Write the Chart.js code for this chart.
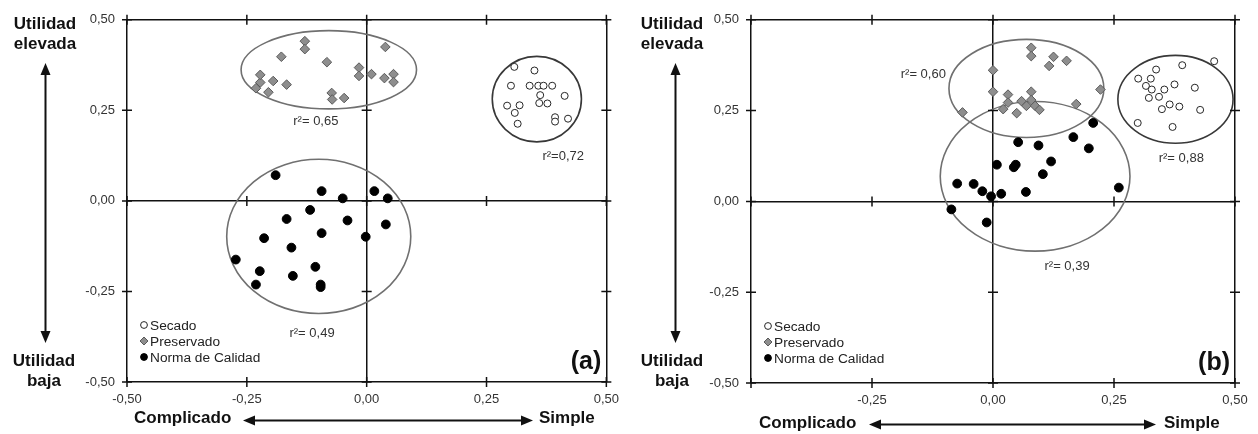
<!DOCTYPE html>
<html>
<head>
<meta charset="utf-8">
<script src="https://cdn.jsdelivr.net/npm/chart.js@4.4.1/dist/chart.umd.min.js"></script>
<style>
  body { margin: 0; background: #fff; width: 1258px; height: 434px; position: relative; overflow: hidden;
         font-family: "Liberation Sans", Arial, sans-serif; }
  .panel { position: absolute; top: 0; width: 629px; height: 434px; }
  .lbl { position: absolute; font-weight: bold; font-size: 17px; line-height: 20px; color: #111; white-space: nowrap; }
  .c { width: 90px; text-align: center; }
  svg { position: absolute; left: 0; top: 0; pointer-events: none; }
</style>
</head>
<body>
<div class="panel" style="left:0"><canvas id="chart-a"></canvas></div>
<div class="panel" style="left:629px"><canvas id="chart-b"></canvas></div>

<!-- texto de los ejes -->
<div class="lbl c" style="left:0;top:14px">Utilidad<br>elevada</div>
<div class="lbl c" style="left:-1px;top:351px">Utilidad<br>baja</div>
<div class="lbl" style="left:134px;top:408px">Complicado</div>
<div class="lbl" style="left:539px;top:408px">Simple</div>

<div class="lbl c" style="left:627px;top:14px">Utilidad<br>elevada</div>
<div class="lbl c" style="left:627px;top:351px">Utilidad<br>baja</div>
<div class="lbl" style="left:759px;top:413px">Complicado</div>
<div class="lbl" style="left:1164px;top:413px">Simple</div>

<svg width="1258" height="434">
  <g stroke="#111" stroke-width="2" fill="none">
    <line x1="45.5" y1="72" x2="45.5" y2="334"/>
    <line x1="252" y1="420.5" x2="524" y2="420.5"/>
    <line x1="675.5" y1="72" x2="675.5" y2="334"/>
    <line x1="878" y1="424.5" x2="1147" y2="424.5"/>
  </g>
  <g fill="#111">
    <polygon points="45.5,63 40.5,75 50.5,75"/>
    <polygon points="45.5,343 40.5,331 50.5,331"/>
    <polygon points="243,420.5 255,415.5 255,425.5"/>
    <polygon points="533,420.5 521,415.5 521,425.5"/>
    <polygon points="675.5,63 670.5,75 680.5,75"/>
    <polygon points="675.5,343 670.5,331 680.5,331"/>
    <polygon points="869,424.5 881,419.5 881,429.5"/>
    <polygon points="1156,424.5 1144,419.5 1144,429.5"/>
  </g>
</svg>

<script>
// --- datos: [x, y] ---
const TICKS = [-0.5, -0.25, 0, 0.25, 0.5];
const MAJOR = [-0.5, 0, 0.5];
const SERIES = ['Secado', 'Preservado', 'Norma de Calidad'];

// panel (a)
const A_SECADO = [
  [0.308, 0.370], [0.350, 0.360], [0.301, 0.318], [0.340, 0.318], [0.358, 0.318], [0.369, 0.318],
  [0.387, 0.318], [0.362, 0.292], [0.413, 0.290], [0.360, 0.270], [0.377, 0.269], [0.293, 0.263],
  [0.319, 0.264], [0.309, 0.243], [0.315, 0.213], [0.393, 0.231], [0.393, 0.219], [0.420, 0.227],
];
const A_PRESERVADO = [
  [-0.231, 0.311], [-0.222, 0.327], [-0.222, 0.348], [-0.205, 0.300], [-0.195, 0.331], [-0.178, 0.398],
  [-0.167, 0.321], [-0.129, 0.441], [-0.129, 0.419], [-0.083, 0.383], [-0.073, 0.298], [-0.072, 0.280],
  [-0.047, 0.284], [-0.016, 0.368], [-0.016, 0.345], [0.010, 0.350], [0.039, 0.425], [0.037, 0.339],
  [0.056, 0.350], [0.056, 0.328],
];
const A_NORMA = [
  [-0.190, 0.071], [-0.094, 0.027], [-0.050, 0.007], [0.016, 0.027], [0.044, 0.007], [-0.118, -0.025],
  [-0.167, -0.050], [-0.040, -0.054], [0.040, -0.065], [-0.094, -0.089], [-0.214, -0.103], [-0.002, -0.099],
  [-0.157, -0.129], [-0.273, -0.162], [-0.107, -0.182], [-0.223, -0.194], [-0.154, -0.207], [-0.231, -0.231],
  [-0.096, -0.231], [-0.096, -0.238],
];
// elipses: [cx, cy, rx, ry]
const A_ELIPSES = [[-0.079, 0.362, 0.183, 0.108], [0.355, 0.281, 0.093, 0.118], [-0.100, -0.098, 0.192, 0.213]];
const A_R2 = [['r²= 0,65', -0.106, 0.220], ['r²=0,72', 0.410, 0.122], ['r²= 0,49', -0.114, -0.366]];

// panel (b)
const B_SECADO = [
  [0.457, 0.386], [0.391, 0.375], [0.337, 0.363], [0.300, 0.338], [0.326, 0.338], [0.316, 0.318],
  [0.328, 0.308], [0.375, 0.322], [0.354, 0.308], [0.417, 0.313], [0.322, 0.285], [0.343, 0.288],
  [0.349, 0.254], [0.365, 0.267], [0.385, 0.261], [0.428, 0.252], [0.299, 0.216], [0.371, 0.205],
];
const B_PRESERVADO = [
  [-0.063, 0.245], [0.000, 0.361], [0.000, 0.302], [0.031, 0.294], [0.031, 0.272], [0.021, 0.254],
  [0.049, 0.243], [0.059, 0.276], [0.069, 0.263], [0.079, 0.302], [0.079, 0.279], [0.087, 0.263],
  [0.096, 0.252], [0.079, 0.423], [0.079, 0.400], [0.125, 0.398], [0.116, 0.373], [0.152, 0.387],
  [0.172, 0.268], [0.222, 0.308],
];
const B_NORMA = [
  [-0.086, -0.022], [-0.074, 0.049], [-0.040, 0.048], [-0.022, 0.028], [-0.004, 0.014], [-0.013, -0.058],
  [0.017, 0.021], [0.008, 0.101], [0.043, 0.094], [0.047, 0.101], [0.052, 0.163], [0.068, 0.026],
  [0.094, 0.154], [0.103, 0.075], [0.120, 0.110], [0.166, 0.177], [0.198, 0.146], [0.207, 0.216],
  [0.260, 0.038],
];
const B_ELIPSES = [[0.069, 0.311, 0.160, 0.135], [0.377, 0.281, 0.119, 0.121], [0.087, 0.069, 0.196, 0.206]];
const B_R2 = [['r²= 0,60', -0.144, 0.349], ['r²= 0,88', 0.389, 0.119], ['r²= 0,39', 0.153, -0.180]];

const ELLIPSE_COLORS = ['#707070', '#383838', '#707070'];  // preservado, secado, norma
const FONT = '"Liberation Sans", Arial, sans-serif';

function fmt(v) {
  return (Math.abs(v) < 1e-9 ? 0 : v).toFixed(2).replace('.', ',');
}

function marker(ctx, style, x, y, r) {
  ctx.beginPath();
  if (style === 'rectRot') {
    ctx.moveTo(x, y - r); ctx.lineTo(x + r, y); ctx.lineTo(x, y + r); ctx.lineTo(x - r, y); ctx.closePath();
  } else {
    ctx.arc(x, y, r, 0, Math.PI * 2);
  }
  ctx.fill();
  ctx.stroke();
}

// elipses, marcas cruzadas, r², leyenda y (a)/(b)
const overlay = {
  id: 'overlay',
  beforeDatasetsDraw(chart, args, o) {
    const { ctx, scales: { x, y } } = chart;
    ctx.save();
    ctx.lineWidth = 1.6;
    o.ellipses.forEach((e, i) => {
      const cx = x.getPixelForValue(e[0]), cy = y.getPixelForValue(e[1]);
      const rx = Math.abs(x.getPixelForValue(e[0] + e[2]) - cx);
      const ry = Math.abs(y.getPixelForValue(e[1] + e[3]) - cy);
      ctx.strokeStyle = ELLIPSE_COLORS[i];
      ctx.beginPath();
      ctx.ellipse(cx, cy, rx, ry, 0, 0, Math.PI * 2);
      ctx.stroke();
    });
    ctx.strokeStyle = '#111';
    ctx.lineWidth = 1.5;
    ctx.beginPath();
    MAJOR.forEach(m => {
      TICKS.forEach(t => {
        const px = x.getPixelForValue(t), py = y.getPixelForValue(m);
        ctx.moveTo(px, py - 5); ctx.lineTo(px, py + 5);
        const qx = x.getPixelForValue(m), qy = y.getPixelForValue(t);
        ctx.moveTo(qx - 5, qy); ctx.lineTo(qx + 5, qy);
      });
    });
    ctx.stroke();
    ctx.restore();
  },
  afterDatasetsDraw(chart, args, o) {
    const { ctx, chartArea: a, scales: { x, y } } = chart;
    ctx.save();
    ctx.fillStyle = '#333';
    ctx.font = '13px ' + FONT;
    ctx.textAlign = 'center';
    ctx.textBaseline = 'middle';
    o.r2.forEach(([t, vx, vy]) => ctx.fillText(t, x.getPixelForValue(vx), y.getPixelForValue(vy)));

    ctx.font = '13.7px ' + FONT;
    ctx.textAlign = 'left';
    chart.data.datasets.forEach((ds, i) => {
      const ly = a.bottom - 57 + i * 16;
      ctx.fillStyle = ds.backgroundColor;
      ctx.strokeStyle = ds.borderColor;
      ctx.lineWidth = 1;
      marker(ctx, ds.pointStyle, a.left + 17, ly, ds.pointStyle === 'rectRot' ? 4 : 3.4);
      ctx.fillStyle = '#222';
      ctx.fillText(ds.label, a.left + 23, ly + 1);
    });

    ctx.font = 'bold 25px ' + FONT;
    ctx.fillStyle = '#111';
    ctx.textAlign = 'right';
    ctx.fillText(o.tag, a.right - 5, a.bottom - 20);
    ctx.restore();
  },
};

function axis(hideFirst, fitKey, fitSize) {
  return {
    type: 'linear', min: -0.5, max: 0.5,
    afterBuildTicks: s => { s.ticks = TICKS.map(v => ({ value: v })); },
    afterFit: s => { s[fitKey] = fitSize; },
    border: { display: false },
    grid: {
      drawTicks: false,
      lineWidth: 1.5,
      color: c => MAJOR.includes(c.tick.value) ? '#111' : 'rgba(0,0,0,0)',
    },
    ticks: {
      padding: fitKey === 'width' ? 12 : 10,
      color: '#333',
      font: { family: FONT, size: 13 },
      callback: v => (hideFirst && v === -0.5) ? '' : fmt(v),
    },
  };
}

function makePanel(id, secado, preservado, norma, ellipses, r2, tag, area, hideFirstX) {
  const toPts = arr => arr.map(([x, y]) => ({ x, y }));
  new Chart(document.getElementById(id), {
    type: 'scatter',
    data: {
      datasets: [
        { label: SERIES[0], data: toPts(secado), pointStyle: 'circle', pointRadius: 3.5,
          backgroundColor: '#ffffff', borderColor: '#262626', borderWidth: 1 },
        { label: SERIES[1], data: toPts(preservado), pointStyle: 'rectRot', pointRadius: 4.8,
          backgroundColor: '#8e8e8e', borderColor: '#5a5a5a', borderWidth: 1 },
        { label: SERIES[2], data: toPts(norma), pointStyle: 'circle', pointRadius: 4.4,
          backgroundColor: '#000000', borderColor: '#000000', borderWidth: 1 },
      ],
    },
    options: {
      responsive: true,
      maintainAspectRatio: false,
      animation: false,
      layout: { padding: { left: area.left - 50, right: 629 - area.right, top: area.top, bottom: 434 - area.bottom - 24 } },
      scales: {
        x: axis(hideFirstX, 'height', 24),
        y: axis(false, 'width', 50),
      },
      plugins: {
        legend: { display: false },
        tooltip: { enabled: false },
        overlay: { ellipses, r2, tag },
      },
    },
    plugins: [overlay],
  });
}

makePanel('chart-a', A_SECADO, A_PRESERVADO, A_NORMA, A_ELIPSES, A_R2, '(a)',
  { left: 127, right: 612, top: 16, bottom: 382 }, false);
makePanel('chart-b', B_SECADO, B_PRESERVADO, B_NORMA, B_ELIPSES, B_R2, '(b)',
  { left: 122, right: 606, top: 18, bottom: 383 }, true);
</script>
</body>
</html>
